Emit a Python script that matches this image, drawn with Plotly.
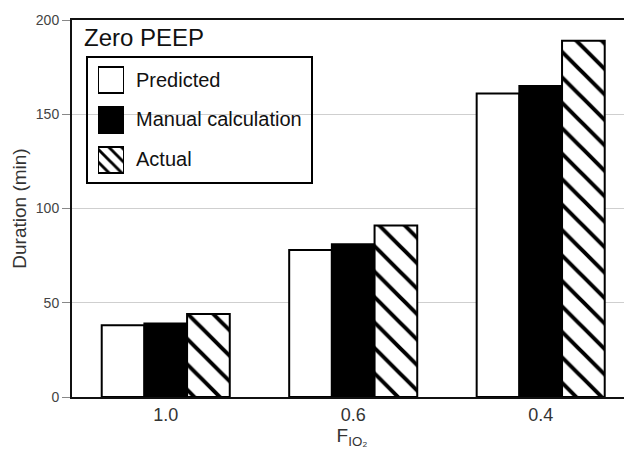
import plotly.graph_objects as go

# ---- data ----
categories = ["1.0", "0.6", "0.4"]
series_names = ["Predicted", "Manual calculation", "Actual"]
predicted = [38, 78, 161]
manual = [39, 81, 165]
actual = [44, 91, 189]
y_ticks = [0, 50, 100, 150, 200]
legend_title = "Zero PEEP"

FONT = "Liberation Sans, Arial, Helvetica, sans-serif"
PAGE_OFF = 8  # default body margin of the html page
W, H = 632 - PAGE_OFF, 454 - PAGE_OFF
L, R, T, B = 72 - PAGE_OFF, 0, 20 - PAGE_OFF, 57
PW = W - L - R
PH = H - T - B


def px_x(p):
    # p: reference (viewport) pixel -> paper coordinate
    return (p - PAGE_OFF - L) / PW


def px_y(p):
    return (H - B - (p - PAGE_OFF)) / PH


styles = [
    dict(color="white", pattern=None),
    dict(color="black", pattern=None),
    dict(color="white", pattern=dict(shape="\\", fgcolor="#000000", bgcolor="white",
                                     fgopacity=1, fillmode="replace", size=18, solidity=0.22)),
]
values = [predicted, manual, actual]

fig = go.Figure()
for name, vals, st in zip(series_names, values, styles):
    marker = dict(color=st["color"], line=dict(color="black", width=2))
    if st["pattern"]:
        marker["pattern"] = st["pattern"]
    fig.add_trace(go.Bar(x=categories, y=vals, name=name, marker=marker,
                         showlegend=False, xaxis="x", yaxis="y"))

# legend swatches drawn as bars on a small inset axis
swatch_pos = [0, 1, 2]
for i, (name, st) in enumerate(zip(series_names, styles)):
    marker = dict(color=st["color"], line=dict(color="black", width=2))
    if st["pattern"]:
        p = dict(st["pattern"])
        p["size"] = 9
        p["solidity"] = 0.32
        marker["pattern"] = p
    fig.add_trace(go.Bar(x=[1], y=[swatch_pos[i]], base=0, orientation="h", width=0.65,
                         marker=marker, showlegend=False, hoverinfo="skip",
                         xaxis="x2", yaxis="y2"))

fig.update_layout(
    width=W, height=H,
    margin=dict(l=L, r=R, t=T, b=B, autoexpand=False),
    paper_bgcolor="white", plot_bgcolor="white",
    barmode="group", bargap=0.317, bargroupgap=0,
    font=dict(family=FONT, color="#222"),
    xaxis=dict(
        range=[-0.5, 2.487], type="category", automargin=False,
        showline=True, linecolor="#111", linewidth=2, mirror=True,
        ticks="", showgrid=False, zeroline=False,
        tickfont=dict(size=18, color="#333"),
        title=dict(text="F<sub>IO₂</sub>", font=dict(size=19, color="#333"), standoff=5),
    ),
    yaxis=dict(
        range=[0, 200], tickvals=y_ticks, automargin=False,
        showline=True, linecolor="#111", linewidth=2,
        ticks="outside", ticklen=8, tickcolor="#888", tickwidth=1,
        showgrid=True, gridcolor="#cfcfcf", gridwidth=1, zeroline=False,
        tickfont=dict(size=14, color="#444"),
        title=dict(text="Duration (min)", font=dict(size=19, color="#333"), standoff=4),
    ),
    xaxis2=dict(domain=[px_x(98), px_x(124)], range=[0, 1], visible=False, anchor="y2"),
    yaxis2=dict(domain=[px_y(180), px_y(60)], range=[2.5, -0.5], visible=False, anchor="x2"),
    shapes=[dict(type="rect", xref="paper", yref="paper",
                 x0=px_x(87), x1=px_x(312), y0=px_y(183), y1=px_y(57),
                 line=dict(color="black", width=2), fillcolor="rgba(0,0,0,0)")],
)

annotations = [dict(text=legend_title, xref="paper", yref="paper", x=px_x(82), y=px_y(37),
                    xanchor="left", yanchor="middle", showarrow=False,
                    font=dict(size=24, color="#111", family=FONT))]
for i, name in enumerate(series_names):
    annotations.append(dict(text=name, xref="paper", yref="paper", x=px_x(134),
                            y=px_y(80 + 39.5 * i), xanchor="left", yanchor="middle",
                            showarrow=False, font=dict(size=20, color="#111", family=FONT)))
fig.update_layout(annotations=annotations)

fig.write_html("out.html")
